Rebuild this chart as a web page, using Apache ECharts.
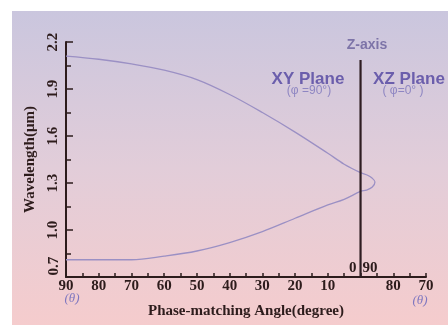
<!DOCTYPE html>
<html><head><meta charset="utf-8">
<script src="https://cdn.jsdelivr.net/npm/echarts@6/dist/echarts.min.js"></script>
<style>html,body{margin:0;padding:0;background:#fff}#c{width:448px;height:325px}</style>
</head><body><div id="c"></div>
<script>
// XY plane, upper branch (theta from 90 to 0)
const xyThetaUpper = [90, 80, 70, 60, 50, 40, 30, 20, 10, 5, 0];
const xyWaveUpper  = [2.11, 2.09, 2.06, 2.02, 1.96, 1.865, 1.75, 1.625, 1.49, 1.42, 1.366];
// XZ plane loop (theta near 90)
const xzTheta = [88, 86.5, 85.6, 86.4, 88.2];
const xzWave  = [1.351, 1.332, 1.306, 1.274, 1.255];
// XY plane, lower branch (theta from 0 back to 90)
const xyThetaLower = [0, 5, 10, 20, 30, 40, 50, 60, 70, 80, 90];
const xyWaveLower  = [1.246, 1.196, 1.16, 1.075, 0.99, 0.92, 0.866, 0.833, 0.81, 0.81, 0.81];
// Z-axis line
const zAxisTheta = 0;
const zAxisWave = [0.7, 2.085];
// tick labels
const yTicks = [0.7, 1.0, 1.3, 1.6, 1.9, 2.2];
const xTicksXY = [90, 80, 70, 60, 50, 40, 30, 20, 10, 0];
const xTicksXZ = [90, 80, 70];

const pXY = t => 90 - t;
const pXZ = t => 180 - t;

const curve = [];
xyThetaUpper.forEach((t, i) => curve.push([pXY(t), xyWaveUpper[i]]));
xzTheta.forEach((t, i) => curve.push([pXZ(t), xzWave[i]]));
xyThetaLower.forEach((t, i) => curve.push([pXY(t), xyWaveLower[i]]));

const axisCol = '#2d1c1c';
const serif = '"Liberation Serif", "Times New Roman", serif';
const sans = '"Liberation Sans", Arial, sans-serif';

function xLabel(v) {
  if (Math.abs(v - 90) < 1e-6) return '';
  if (v < 90) return String(xTicksXY[Math.round(v / 10)]);
  return String(xTicksXZ[Math.round((v - 90) / 10)]);
}

const chart = echarts.init(document.getElementById('c'), null, {renderer: 'canvas'});
chart.setOption({
  animation: false,
  backgroundColor: '#ffffff',
  grid: {left: 66, right: 22, top: 42, bottom: 48, containLabel: false, outerBoundsMode: 'none'},
  xAxis: {
    type: 'value', min: 0, max: 110, interval: 10,
    name: 'Phase-matching Angle(degree)', nameLocation: 'middle', nameGap: 27,
    nameTextStyle: {fontFamily: serif, fontWeight: 'bold', fontSize: 15, color: axisCol},
    axisLine: {show: true, lineStyle: {color: axisCol, width: 2}},
    axisTick: {show: true, inside: true, length: 4, lineStyle: {color: axisCol, width: 1.5}},
    minorTick: {show: true, splitNumber: 2, length: 4, lineStyle: {color: axisCol, width: 1.5}},
    splitLine: {show: false}, minorSplitLine: {show: false},
    axisLabel: {formatter: xLabel, fontFamily: serif, fontWeight: 'bold', fontSize: 15, color: axisCol, margin: 2}
  },
  yAxis: {
    type: 'value', min: yTicks[0], max: yTicks[yTicks.length - 1], interval: 0.3,
    name: 'Wavelength(\u03bcm)', nameLocation: 'middle', nameGap: 24, nameRotate: 90,
    nameTextStyle: {fontFamily: serif, fontWeight: 'bold', fontSize: 15, color: axisCol},
    axisLine: {show: true, lineStyle: {color: axisCol, width: 2}},
    axisTick: {show: true, inside: true, length: 7, lineStyle: {color: axisCol, width: 1.5}},
    minorTick: {show: true, splitNumber: 2, length: 5, lineStyle: {color: axisCol, width: 1.5}},
    splitLine: {show: false}, minorSplitLine: {show: false},
    axisLabel: {rotate: 90, showMinLabel: false, formatter: v => v.toFixed(1),
      fontFamily: serif, fontWeight: 'bold', fontSize: 15, color: axisCol, margin: 5}
  },
  series: [
    {type: 'line', data: curve, smooth: 0.35, showSymbol: false, symbol: 'none',
      lineStyle: {color: '#9b90c4', width: 1.3}, z: 3},
    {type: 'line', data: zAxisWave.map(w => [pXY(zAxisTheta), w]), showSymbol: false, symbol: 'none',
      lineStyle: {color: '#2e1d22', width: 2.2}, z: 4}
  ]
});

const o = chart.convertToPixel({gridIndex: 0}, [pXY(zAxisTheta), yTicks[0]]);
const y07 = chart.convertToPixel({gridIndex: 0}, [0, yTicks[0]]);
const grad = new echarts.graphic.LinearGradient(0, 0, 0, 1, [
  {offset: 0, color: '#cac6de'}, {offset: 0.5, color: '#e2cdd9'}, {offset: 1, color: '#f5cccd'}
]);
chart.setOption({
  graphic: [
    {type: 'rect', z: -10, silent: true, shape: {x: 12, y: 11, width: 436, height: 314}, style: {fill: grad}},
    {type: 'text', x: y07[0] - 12, y: y07[1] - 11, rotation: Math.PI / 2,
      style: {text: yTicks[0].toFixed(1), font: 'bold 15px ' + serif, fill: axisCol, align: 'center', verticalAlign: 'middle'}},
    {type: 'text', x: o[0] - 4, y: o[1] - 9, style: {text: String(xTicksXY[xTicksXY.length - 1]), font: 'bold 15px ' + serif, fill: axisCol, align: 'right', verticalAlign: 'middle'}},
    {type: 'text', x: o[0] + 2, y: o[1] - 9, style: {text: String(xTicksXZ[0]), font: 'bold 15px ' + serif, fill: axisCol, align: 'left', verticalAlign: 'middle'}},
    {type: 'text', x: 367, y: 45, style: {text: 'Z-axis', font: 'bold 14px ' + sans, fill: '#7d74a8', align: 'center', verticalAlign: 'middle'}},
    {type: 'text', x: 308, y: 79, style: {text: 'XY Plane', font: 'bold 17px ' + sans, fill: '#6b5eac', align: 'center', verticalAlign: 'middle'}},
    {type: 'text', x: 309, y: 91, style: {text: '(\u03c6 =90\u00b0)', font: '12px ' + sans, fill: '#8e86c2', align: 'center', verticalAlign: 'middle'}},
    {type: 'text', x: 409, y: 79, style: {text: 'XZ Plane', font: 'bold 17px ' + sans, fill: '#6b5eac', align: 'center', verticalAlign: 'middle'}},
    {type: 'text', x: 403, y: 91, style: {text: '( \u03c6=0\u00b0 )', font: '12px ' + sans, fill: '#8e86c2', align: 'center', verticalAlign: 'middle'}},
    {type: 'text', x: 72, y: 299, style: {text: '(\u03b8)', font: 'italic 13px ' + serif, fill: '#7f77c0', align: 'center', verticalAlign: 'middle'}},
    {type: 'text', x: 420, y: 301, style: {text: '(\u03b8)', font: 'italic 13px ' + serif, fill: '#7f77c0', align: 'center', verticalAlign: 'middle'}}
  ]
});
</script></body></html>
